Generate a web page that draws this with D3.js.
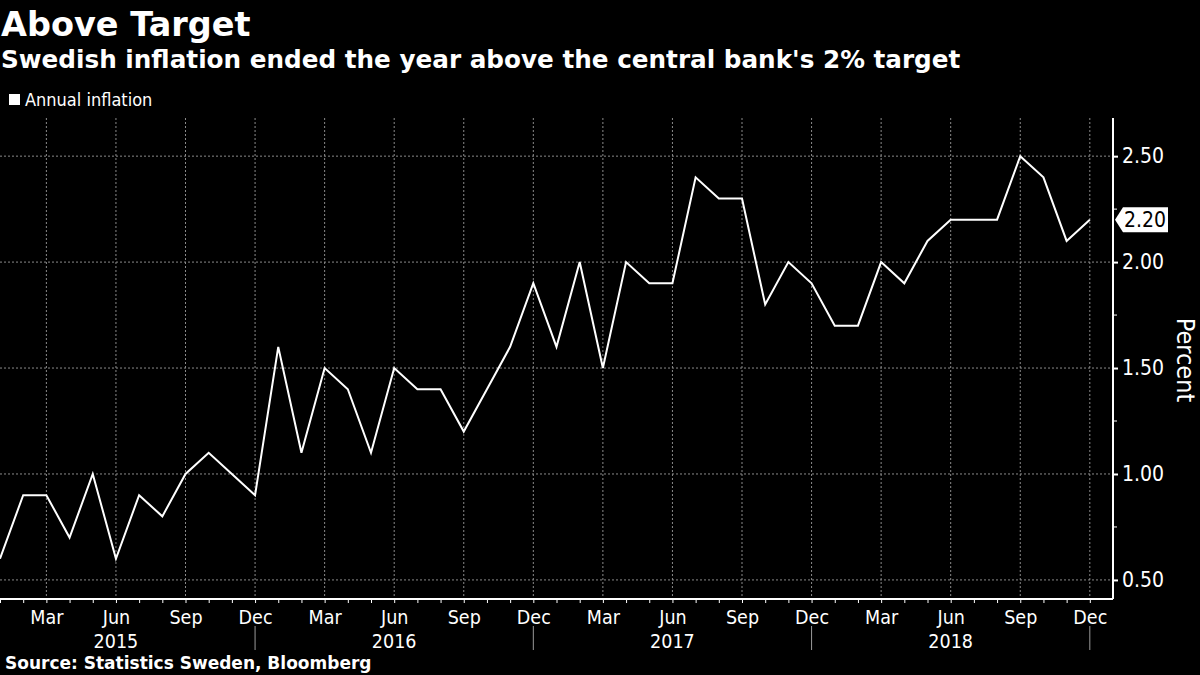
<!DOCTYPE html>
<html>
<head>
<meta charset="utf-8">
<script src="https://cdn.jsdelivr.net/npm/d3@7"></script>
<style>
  html, body { margin: 0; padding: 0; background: #000; }
  svg { display: block; }
  .narrow { font-family: "Liberation Sans Narrow", "DejaVu Sans Condensed", "Roboto Condensed", Roboto, sans-serif; }
  .heavy { font-family: "DejaVu Sans", "Open Sans", sans-serif; font-weight: bold; }
</style>
</head>
<body>
<svg id="chart" width="1200" height="675"></svg>
<script>
// Data: Swedish annual inflation, Jan 2015 - Dec 2018
const years = ["2015", "2016", "2017", "2018"];
const monthNames = ["Jan", "Feb", "Mar", "Apr", "May", "Jun", "Jul", "Aug", "Sep", "Oct", "Nov", "Dec"];
const inflation = [
  0.6, 0.9, 0.9, 0.7, 1.0, 0.6, 0.9, 0.8, 1.0, 1.1, 1.0, 0.9,
  1.6, 1.1, 1.5, 1.4, 1.1, 1.5, 1.4, 1.4, 1.2, 1.4, 1.6, 1.9,
  1.6, 2.0, 1.5, 2.0, 1.9, 1.9, 2.4, 2.3, 2.3, 1.8, 2.0, 1.9,
  1.7, 1.7, 2.0, 1.9, 2.1, 2.2, 2.2, 2.2, 2.5, 2.4, 2.1, 2.2
];
const yTicks = [0.5, 1.0, 1.5, 2.0, 2.5];
const yMinorTicks = [0.75, 1.25, 1.75, 2.25];

const svg = d3.select("#chart");
const W = 1200, H = 675;

svg.append("rect").attr("width", W).attr("height", H).attr("fill", "#000");

// Plot area
const plotL = 0, plotR = 1113, plotT = 118, plotB = 599;

const x = d3.scaleLinear().domain([0, 48]).range([plotL, plotR]);
const y = d3.scaleLinear().domain([0.41, 2.68]).range([plotB, plotT]);

// Titles
svg.append("text").attr("class", "heavy")
  .attr("x", 1).attr("y", 36)
  .attr("font-size", 33.5).attr("fill", "#fff")
  .text("Above Target");
svg.append("text").attr("class", "heavy")
  .attr("x", 1).attr("y", 68)
  .attr("font-size", 24.7).attr("fill", "#fff")
  .text("Swedish inflation ended the year above the central bank's 2% target");

// Legend
svg.append("rect").attr("x", 9).attr("y", 94).attr("width", 11).attr("height", 11).attr("fill", "#fff");
svg.append("text").attr("class", "narrow")
  .attr("x", 25).attr("y", 106)
  .attr("font-size", 18).attr("fill", "#fff")
  .text("Annual inflation");

// Gridlines
const quarterIdx = d3.range(48).filter(i => i % 3 === 2);
svg.append("g").selectAll("line").data(quarterIdx).join("line")
  .attr("x1", d => x(d)).attr("x2", d => x(d))
  .attr("y1", plotT).attr("y2", plotB)
  .attr("stroke", "#8a8a8a").attr("stroke-width", 1)
  .attr("stroke-dasharray", "2,2");
svg.append("g").selectAll("line").data(yTicks).join("line")
  .attr("x1", plotL).attr("x2", plotR)
  .attr("y1", d => y(d)).attr("y2", d => y(d))
  .attr("stroke", "#8a8a8a").attr("stroke-width", 1)
  .attr("stroke-dasharray", "2,2");

// Bottom axis: monthly ticks, quarter labels
const xAxis = d3.axisBottom(x)
  .tickValues(d3.range(48))
  .tickSize(4)
  .tickFormat(i => (i % 3 === 2 ? monthNames[i % 12] : ""));
const gx = svg.append("g").attr("transform", `translate(0,${plotB})`).call(xAxis);
gx.select(".domain").attr("stroke", "#fff").attr("stroke-width", 2).attr("d", `M${plotL},0H${plotR}`);
gx.selectAll(".tick line").attr("stroke", "#fff");
gx.selectAll(".tick text")
  .attr("class", "narrow")
  .attr("fill", "#fff").attr("font-size", 19.5).attr("dy", "0.9em");

// Year separators and labels
const yearEnds = years.map((yr, k) => k * 12 + 11);
svg.append("g").selectAll("line").data(yearEnds).join("line")
  .attr("x1", d => x(d)).attr("x2", d => x(d))
  .attr("y1", 626).attr("y2", 650)
  .attr("stroke", "#9a9a9a").attr("stroke-width", 1);
svg.append("g").selectAll("text").data(years).join("text")
  .attr("class", "narrow")
  .attr("x", (d, k) => x(k * 12 + 5))
  .attr("y", 648)
  .attr("text-anchor", "middle")
  .attr("font-size", 19.5).attr("fill", "#fff")
  .text(d => d);

// Right axis
const yAxis = d3.axisRight(y)
  .tickValues(yTicks)
  .tickSize(5)
  .tickFormat(d3.format(".2f"));
const gy = svg.append("g").attr("transform", `translate(${plotR},0)`).call(yAxis);
gy.select(".domain").attr("stroke", "#fff").attr("stroke-width", 2).attr("d", `M0,${plotT}V${plotB}`);
gy.selectAll(".tick line").attr("stroke", "#fff").attr("stroke-width", 2);
gy.selectAll(".tick text")
  .attr("class", "narrow")
  .attr("fill", "#fff").attr("font-size", 21).attr("x", 9);
svg.append("g").selectAll("line").data(yMinorTicks).join("line")
  .attr("x1", plotR).attr("x2", plotR + 4)
  .attr("y1", d => y(d)).attr("y2", d => y(d))
  .attr("stroke", "#fff").attr("stroke-width", 1);

svg.append("text").attr("class", "narrow")
  .attr("transform", `translate(1177,360) rotate(90)`)
  .attr("text-anchor", "middle")
  .attr("font-size", 25).attr("fill", "#fff")
  .text("Percent");

// Series line
const line = d3.line()
  .x((d, i) => x(i))
  .y(d => y(d));
svg.append("path").datum(inflation)
  .attr("d", line)
  .attr("fill", "none")
  .attr("stroke", "#fff")
  .attr("stroke-width", 2)
  .attr("stroke-linejoin", "miter");

// Last value tag
const last = inflation[inflation.length - 1];
const ty = y(last);
const tx = plotR + 2;
svg.append("path")
  .attr("d", `M${tx},${ty}L${tx + 8},${ty - 12.5}H${tx + 53}V${ty + 12.5}H${tx + 8}Z`)
  .attr("fill", "#fff");
svg.append("text").attr("class", "narrow")
  .attr("x", tx + 9).attr("y", ty)
  .attr("dy", "0.36em")
  .attr("font-size", 21).attr("fill", "#000")
  .text(d3.format(".2f")(last));

// Source
svg.append("text").attr("class", "heavy")
  .attr("x", 5).attr("y", 669)
  .attr("font-size", 17).attr("fill", "#fff")
  .text("Source: Statistics Sweden, Bloomberg");
</script>
</body>
</html>
